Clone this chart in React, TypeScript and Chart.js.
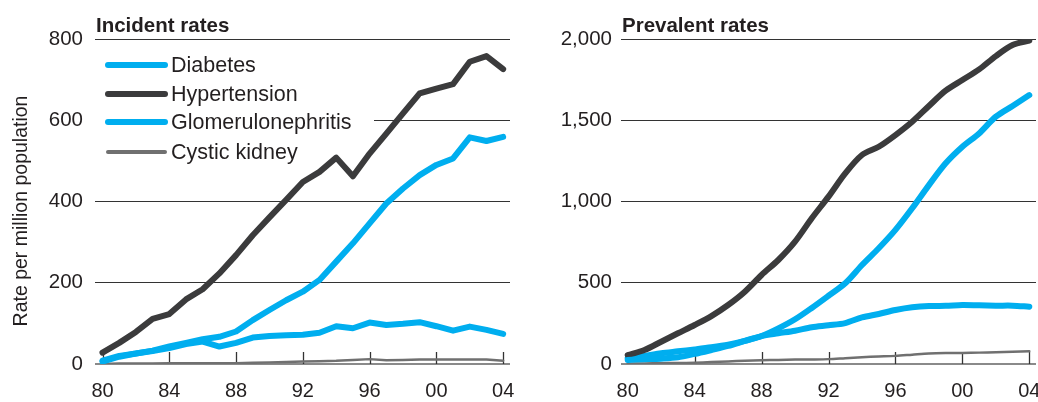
import React, { useEffect, useRef } from "react";
import { Chart, registerables } from "chart.js";

Chart.register(...registerables);

// ---------- Data ----------
const years = [
  1980, 1981, 1982, 1983, 1984, 1985, 1986, 1987, 1988, 1989, 1990, 1991, 1992,
  1993, 1994, 1995, 1996, 1997, 1998, 1999, 2000, 2001, 2002, 2003, 2004,
];
const tickYears = [1980, 1984, 1988, 1992, 1996, 2000, 2004];
const seriesNames = ["Diabetes", "Hypertension", "Glomerulonephritis", "Cystic kidney"];

const incidentDiabetes = [
  8, 20, 26, 33, 43, 52, 61, 67, 80, 108, 133, 157, 178, 207, 252, 297, 346, 395, 432, 465,
  490, 506, 558, 549, 559,
];
const incidentHypertension = [
  28, 52, 79, 111, 123, 159, 184, 223, 268, 317, 361, 404, 448, 473, 508, 462, 518, 567, 617,
  666, 678, 689, 744, 758, 726,
];
const incidentGlomerulo = [
  6, 18, 26, 32, 39, 49, 55, 43, 52, 65, 69, 71, 72, 77, 93, 88, 102, 96, 99, 103, 93, 82, 92,
  84, 74,
];
const incidentCystic = [
  0, 1, 1, 1, 2, 2, 2, 2, 2, 3, 4, 5, 6, 7, 8, 10, 12, 9, 10, 11, 11, 11, 11, 11, 8,
];

const prevalentDiabetes = [
  25, 29, 33, 41, 62, 86, 111, 142, 172, 219, 275, 345, 420, 497, 609, 712, 825, 958, 1101,
  1235, 1337, 1419, 1522, 1588, 1655,
];
const prevalentHypertension = [
  55, 86, 137, 189, 240, 295, 363, 445, 548, 640, 753, 897, 1030, 1173, 1286, 1337, 1409,
  1491, 1588, 1682, 1748, 1813, 1895, 1963, 1990,
];
const prevalentGlomerulo = [
  35, 49, 66, 78, 90, 103, 119, 142, 172, 189, 205, 226, 238, 252, 287, 308, 332, 349, 357,
  358, 363, 361, 359, 359, 353,
];
const prevalentCystic = [
  2, 3, 5, 6, 8, 12, 16, 20, 23, 25, 27, 28, 30, 36, 42, 46, 50, 57, 64, 67, 68, 70, 72, 75, 78,
];

const incidentTicks = [0, 200, 400, 600, 800];
const prevalentTicks = [0, 500, 1000, 1500, 2000];

// ---------- Styles ----------
const BLUE = "#00aeef";
const DARK = "#3b3b3c";
const GRAY = "#707070";
const TEXT = "#231f20";
const FONT = "'Liberation Sans', Arial, Helvetica, sans-serif";
const seriesColors = [BLUE, DARK, BLUE, GRAY];
const seriesWidths = [6, 6, 6, 2.5];
const legendWidths = [6, 6, 6, 4];

type PanelProps = {
  width: number;
  height: number;
  title: string;
  yTitle?: string;
  series: number[][];
  yTicks: number[];
  yAxisWidth: number;
  rightPad: number;
  labelPad: number;
  xMin: number;
  xMax: number;
  legend: boolean;
  smooth: boolean;
};

const decorPlugin = {
  id: "panelDecor",
  beforeDatasetsDraw(chart: any, _args: any, opts: any) {
    const { ctx, chartArea, scales } = chart;
    const xs = scales.x;
    const ys = scales.y;
    ctx.save();
    const y0 = ys.getPixelForValue(0);
    ctx.strokeStyle = "#333";
    ctx.lineWidth = 1.3;
    for (const t of tickYears) {
      const px = Math.round(xs.getPixelForValue(t)) + 0.5;
      ctx.beginPath();
      ctx.moveTo(px, y0);
      ctx.lineTo(px, y0 - 12);
      ctx.stroke();
    }
    if (opts.legend) {
      ctx.fillStyle = "#ffffff";
      ctx.fillRect(chartArea.left - 2, 46, 374 - chartArea.left + 2, 126);
      const rows = [65, 94, 122, 152];
      seriesNames.forEach((name, i) => {
        ctx.strokeStyle = seriesColors[i];
        ctx.lineWidth = legendWidths[i];
        ctx.lineCap = "round";
        ctx.beginPath();
        ctx.moveTo(108, rows[i]);
        ctx.lineTo(165, rows[i]);
        ctx.stroke();
        ctx.fillStyle = TEXT;
        ctx.font = `21.5px ${FONT}`;
        ctx.textAlign = "left";
        ctx.textBaseline = "middle";
        ctx.fillText(name, 171, rows[i] + 1);
      });
    }
    ctx.restore();
  },
  afterDraw(chart: any, _args: any, opts: any) {
    const { ctx, chartArea } = chart;
    ctx.save();
    ctx.fillStyle = TEXT;
    ctx.font = `bold 20.5px ${FONT}`;
    ctx.textAlign = "left";
    ctx.textBaseline = "alphabetic";
    ctx.fillText(opts.title, chartArea.left + 1, 32);
    if (opts.yTitle) {
      ctx.translate(22, 211);
      ctx.rotate(-Math.PI / 2);
      ctx.font = `19.5px ${FONT}`;
      ctx.textAlign = "center";
      ctx.textBaseline = "middle";
      ctx.fillText(opts.yTitle, 0, 0);
    }
    ctx.restore();
  },
};

function Panel(props: PanelProps) {
  const ref = useRef<HTMLCanvasElement | null>(null);
  useEffect(() => {
    if (!ref.current) return;
    const datasets = props.series.map((vals, i) => ({
      label: seriesNames[i],
      data: years.map((yr, j) => ({ x: yr, y: vals[j] })),
      borderColor: seriesColors[i],
      backgroundColor: seriesColors[i],
      borderWidth: seriesWidths[i],
      pointRadius: 0,
      borderCapStyle: "round",
      borderJoinStyle: "round",
      tension: props.smooth ? 0.3 : 0,
      fill: false,
    }));
    const maxY = props.yTicks[props.yTicks.length - 1];
    const chart = new Chart(ref.current, {
      type: "line",
      data: { datasets } as any,
      plugins: [decorPlugin as any],
      options: {
        responsive: false,
        animation: false,
        devicePixelRatio: 1,
        layout: { padding: { top: 39, left: 0, right: props.rightPad, bottom: 0 } },
        plugins: {
          legend: { display: false },
          tooltip: { enabled: false },
          panelDecor: { title: props.title, yTitle: props.yTitle, legend: props.legend },
        } as any,
        scales: {
          x: {
            type: "linear",
            min: props.xMin,
            max: props.xMax,
            grid: { display: false, drawTicks: false },
            border: { display: false },
            afterBuildTicks: (scale: any) => {
              scale.ticks = tickYears.map((v) => ({ value: v }));
            },
            afterFit: (scale: any) => {
              scale.height = 38;
              scale.paddingLeft = 0;
              scale.paddingRight = 0;
            },
            ticks: {
              autoSkip: false,
              maxRotation: 0,
              padding: 15,
              color: TEXT,
              font: { family: FONT, size: 20 },
              callback: (v: any) => String(Number(v) % 100).padStart(2, "0"),
            },
          },
          y: {
            type: "linear",
            min: 0,
            max: maxY,
            grid: {
              drawTicks: false,
              color: (c: any) => (c.tick && c.tick.value === 0 ? "#8a8a8a" : "#333333"),
              lineWidth: (c: any) => (c.tick && c.tick.value === 0 ? 2 : 1),
            },
            border: { display: false },
            afterBuildTicks: (scale: any) => {
              scale.ticks = props.yTicks.map((v) => ({ value: v }));
            },
            afterFit: (scale: any) => {
              scale.width = props.yAxisWidth;
              scale.paddingTop = 0;
              scale.paddingBottom = 0;
            },
            ticks: {
              padding: props.labelPad,
              color: TEXT,
              font: { family: FONT, size: 20.5 },
              callback: (v: any) => Number(v).toLocaleString("en-US"),
            },
          },
        },
      } as any,
    });
    return () => chart.destroy();
  }, []);
  return (
    <canvas
      ref={ref}
      width={props.width}
      height={props.height}
      style={{ display: "block", width: props.width, height: props.height }}
    />
  );
}

export default function App() {
  return (
    <div
      style={{
        position: "absolute",
        left: 0,
        top: 0,
        width: 1038,
        height: 402,
        display: "flex",
        background: "#ffffff",
      }}
    >
      <Panel
        width={520}
        height={402}
        title="Incident rates"
        yTitle="Rate per million population"
        series={[incidentDiabetes, incidentHypertension, incidentGlomerulo, incidentCystic]}
        yTicks={incidentTicks}
        yAxisWidth={95}
        rightPad={10}
        labelPad={12}
        xMin={1979.55}
        xMax={2004.41}
        legend={true}
        smooth={false}
      />
      <Panel
        width={518}
        height={402}
        title="Prevalent rates"
        series={[prevalentDiabetes, prevalentHypertension, prevalentGlomerulo, prevalentCystic]}
        yTicks={prevalentTicks}
        yAxisWidth={101}
        rightPad={2}
        labelPad={9}
        xMin={1979.6}
        xMax={2004.4}
        legend={false}
        smooth={true}
      />
    </div>
  );
}
